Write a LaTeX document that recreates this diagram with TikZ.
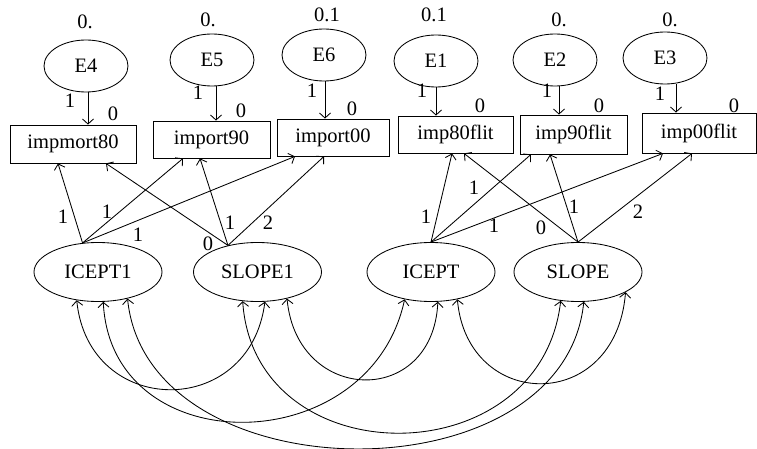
\documentclass[tikz,border=0pt]{standalone}
\usepackage{fontspec}
\setmainfont{Liberation Serif}
\usetikzlibrary{arrows.meta, shapes.geometric}

\begin{document}
\begin{tikzpicture}[x=1pt, y=-1pt, line width=0.85pt,
  font=\fontsize{20.5}{24}\selectfont,
  errvar/.style={draw, ellipse, minimum width=84pt, minimum height=52pt, inner sep=0pt},
  latent/.style={draw, ellipse, minimum width=128pt, minimum height=59pt, inner sep=0pt},
  obsbox/.style={draw, rectangle, minimum height=37pt, inner sep=0pt},
  num/.style={inner sep=0pt},
  effect/.style={-{Straight Barb[length=5pt, width=11pt]}},
  covar/.style={{Straight Barb[length=5pt, width=11pt]}-{Straight Barb[length=5pt, width=11pt]}}]

\useasboundingbox (0,0) rectangle (757,449);

% Error terms
\node[errvar] (e4) at (86,66) {E4};
\node[errvar] (e5) at (212,60) {E5};
\node[errvar] (e6) at (324,55) {E6};
\node[errvar] (e1) at (436,61) {E1};
\node[errvar] (e2) at (555,60) {E2};
\node[errvar] (e3) at (665,58) {E3};

\node[num] (v4) at (85,22) {0.};
\node[num] (v5) at (208,20) {0.};
\node[num] (v6) at (327,15) {0.1};
\node[num] (v1) at (434,15) {0.1};
\node[num] (v2) at (559,20) {0.};
\node[num] (v3) at (670,20) {0.};

% Observed variables
\node[obsbox, minimum width=126pt, minimum height=38pt] (impmort) at (73,144) {impmort80};
\node[obsbox, minimum width=117pt] (import90) at (211.5,139.5) {import90};
\node[obsbox, minimum width=112pt] (import00) at (333,137.5) {import00};
\node[obsbox, minimum width=115pt] (imp80flit) at (455.5,134.5) {imp80flit};
\node[obsbox, minimum width=107pt, minimum height=39pt] (imp90flit) at (573.5,134.5) {imp90flit};
\node[obsbox, minimum width=114pt, minimum height=40pt] (imp00flit) at (699,133) {imp00flit};

% Latent growth factors
\node[latent] (icept1) at (98,272) {ICEPT1};
\node[latent] (slope1) at (257.5,272) {SLOPE1};
\node[latent] (icept) at (431,272) {ICEPT};
\node[latent] (slope) at (578,272) {SLOPE};

% Error arrows
\draw[effect] ([xshift=2pt]e4.south) -- ([xshift=2pt]e4.south |- impmort.north);
\draw[effect] ([xshift=4pt]e5.south) -- ([xshift=4pt]e5.south |- import90.north);
\draw[effect] ([xshift=1pt]e6.south) -- ([xshift=1pt]e6.south |- import00.north);
\draw[effect] (e1.south) -- (e1.south |- imp80flit.north);
\draw[effect] ([xshift=4pt]e2.south) -- ([xshift=4pt]e2.south |- imp90flit.north);
\draw[effect] ([xshift=11pt]e3.south) -- ([xshift=11pt]e3.south |- imp00flit.north);

\node[num] (w4) at (70,101) {1};
\node[num] (w5) at (198,93) {1};
\node[num] (w6) at (312,91) {1};
\node[num] (w1) at (422,91) {1};
\node[num] (w2) at (547,91) {1};
\node[num] (w3) at (660,94) {1};
\node[num] (m4) at (113,114) {0};
\node[num] (m5) at (241,111) {0};
\node[num] (m6) at (352,109) {0};
\node[num] (m1) at (480,106) {0};
\node[num] (m2) at (599,106) {0};
\node[num] (m3) at (734,106) {0};

% Loadings
\draw[effect] (icept1.118) -- ([xshift=-15pt]impmort.south);
\draw[effect] (icept1.118) -- ([xshift=-28.5pt]import90.south);
\draw[effect] (icept1.118) -- ([xshift=-38pt]import00.south);
\draw[effect] (slope1.138) -- ([xshift=33pt]impmort.south);
\draw[effect] (slope1.138) -- ([xshift=-11.5pt]import90.south);
\draw[effect] (slope1.138) -- ([xshift=-9pt]import00.south);
\draw[effect] (icept.north) -- ([xshift=-3.5pt]imp80flit.south);
\draw[effect] (icept.north) -- ([xshift=-42.5pt]imp90flit.south);
\draw[effect] (icept.north) -- ([xshift=-36pt]imp00flit.south);
\draw[effect] (slope.north) -- ([xshift=8.5pt]imp80flit.south);
\draw[effect] (slope.north) -- ([xshift=-23.5pt]imp90flit.south);
\draw[effect] (slope.north) -- ([xshift=-7pt]imp00flit.south);

\node[num] (a1) at (63,217) {1};
\node[num] (a2) at (107,212) {1};
\node[num] (a3) at (138,235) {1};
\node[num] (b1) at (208,244) {0};
\node[num] (b2) at (230,223) {1};
\node[num] (b3) at (268,223) {2};
\node[num] (c1) at (426,217) {1};
\node[num] (c2) at (474,188) {1};
\node[num] (c3) at (494,226) {1};
\node[num] (d1) at (541,228) {0};
\node[num] (d2) at (574,207) {1};
\node[num] (d3) at (638,212) {2};

% Covariances
\draw[covar] (icept1.233) .. controls +(12,118) and +(-15,118) .. (slope1.284);
\draw[covar] (icept1.280) .. controls +(8,162) and +(-35,162) .. (icept.226);
\draw[covar] (icept1.318) .. controls +(20,198) and +(-20,198) .. (slope.281);
\draw[covar] (slope1.243) .. controls +(12,176) and +(-20,176) .. (slope.239);
\draw[covar] (slope1.318) .. controls +(10,106) and +(-5,106) .. (icept.283);
\draw[covar] (icept.314) .. controls +(10,112) and +(-10,122) .. (slope.337);

\end{tikzpicture}
\end{document}
